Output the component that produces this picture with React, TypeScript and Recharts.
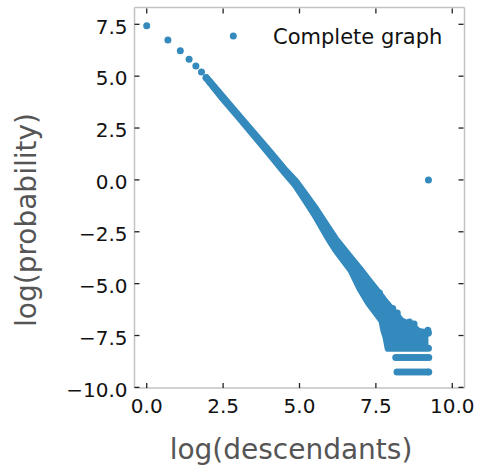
import React from "react";
import { ComposedChart, XAxis, YAxis, Area, Scatter } from "recharts";

const BLUE = "#348ABD";

const xTicks = [0, 2.5, 5, 7.5, 10];
const yTicks = [-10, -7.5, -5, -2.5, 0, 2.5, 5, 7.5];

// first few descendant counts, each point still visible on its own
const headX = [0, 0.693, 1.099, 1.386, 1.609, 1.792, 1.946, 2.079, 2.197, 2.303];
const headY = [7.43, 6.74, 6.22, 5.81, 5.49, 5.2, 4.92, 4.69, 4.48, 4.3];

// dense part of the cloud: upper and lower edge (point centres)
const bandX = [1.95, 2.5, 3.0, 3.5, 4.0, 4.5, 4.87, 5.2, 5.5, 5.93, 6.19, 6.69, 6.98, 7.27, 7.5, 7.7, 7.76, 7.83, 7.9, 8.32, 8.71, 8.88, 9.16, 9.22];
const bandHi = [4.92, 3.98, 3.12, 2.26, 1.4, 0.52, -0.06, -0.72, -1.33, -2.29, -2.87, -3.78, -4.3, -4.85, -5.28, -5.66, -5.78, -5.91, -6.03, -6.78, -7.06, -7.29, -7.37, -7.38];
const bandLo = [4.92, 3.9, 3.04, 2.16, 1.28, 0.38, -0.26, -1.0, -1.68, -2.78, -3.38, -4.36, -5.24, -5.95, -6.4, -6.8, -7.25, -7.58, -8.12, -8.12, -8.12, -8.12, -8.12, -8.12];

// stray points sticking out of the upper edge
const strayX = [7.62, 8.05, 8.2, 8.6, 8.75, 9.2];
const strayY = [-5.45, -6.2, -6.42, -6.85, -6.95, -7.25];

// two lowest probability levels (count 2 and count 1)
const row2X = [8.15, 8.24, 8.33, 8.42, 8.51, 8.6, 8.69, 8.78, 8.87, 8.96, 9.05, 9.14, 9.23];
const row2Y = -8.56;
const row1X = [8.19, 8.28, 8.37, 8.46, 8.55, 8.64, 8.73, 8.82, 8.91, 9.0, 9.09, 9.18, 9.23];
const row1Y = -9.26;

// whole tree
const lastX = [9.22];
const lastY = [0.0];

const head = headX.map((x, i) => ({ x, y: headY[i] }));
const band = bandX.map((x, i) => ({ x, range: [bandLo[i], bandHi[i]] }));
const stray = strayX.map((x, i) => ({ x, y: strayY[i] }));
const rows = [
  ...row2X.map((x) => ({ x, y: row2Y })),
  ...row1X.map((x) => ({ x, y: row1Y })),
];
const last = lastX.map((x, i) => ({ x, y: lastY[i] }));

const fmt = (v: number) => v.toFixed(1).replace("-", "\u2212");
const font = "DejaVu Sans";
const tickColor = "#222";
const frame = { stroke: "#c2c2c2", strokeWidth: 1.5 };

const Dot = (p: any) => <circle cx={p.cx} cy={p.cy} r={3.5} fill={BLUE} />;

const BottomTick = (p: any) => (
  <g>
    <line x1={p.x} x2={p.x} y1={p.y} y2={p.y - 5} stroke={tickColor} strokeWidth={1.3} />
    <text x={p.x} y={p.y + 25} textAnchor="middle" fontSize={20} fontFamily={font} fill="#111">
      {fmt(p.payload.value)}
    </text>
  </g>
);

const LeftTick = (p: any) => (
  <g>
    <line x1={p.x} x2={p.x + 5} y1={p.y} y2={p.y} stroke={tickColor} strokeWidth={1.3} />
    <text x={p.x - 7} y={p.y + 9.3} textAnchor="end" fontSize={20} fontFamily={font} fill="#111">
      {fmt(p.payload.value)}
    </text>
  </g>
);

// top axis box is 1px tall, its line sits at the box's bottom
const TopTick = (p: any) => (
  <line x1={p.x} x2={p.x} y1={p.y + 1} y2={p.y + 6} stroke={tickColor} strokeWidth={1.3} />
);

// right axis box is 1px wide, its line sits at the box's left
const RightTick = (p: any) => (
  <line x1={p.x - 1} x2={p.x - 6} y1={p.y} y2={p.y} stroke={tickColor} strokeWidth={1.3} />
);

export default function App() {
  return (
    <div style={{ position: "relative", width: 479, height: 468 }}>
      <style>{"body{margin:0}"}</style>
      <ComposedChart
        width={479}
        height={468}
        data={band}
        margin={{ top: 6.5, right: 13.5, bottom: 0, left: 0 }}
      >
        <XAxis
          type="number"
          dataKey="x"
          domain={[-0.4, 10.4]}
          allowDataOverflow
          ticks={xTicks}
          interval={0}
          height={80}
          tickSize={0}
          tickMargin={0}
          tickLine={false}
          axisLine={frame}
          tick={BottomTick}
        />
        <XAxis
          xAxisId="top"
          orientation="top"
          type="number"
          dataKey="x"
          domain={[-0.4, 10.4]}
          allowDataOverflow
          ticks={xTicks}
          interval={0}
          height={1}
          tickSize={0}
          tickMargin={0}
          tickLine={false}
          axisLine={frame}
          tick={TopTick}
        />
        <YAxis
          type="number"
          dataKey="y"
          domain={[-10.03, 8.31]}
          allowDataOverflow
          ticks={yTicks}
          interval={0}
          width={134.5}
          tickSize={0}
          tickMargin={0}
          tickLine={false}
          axisLine={frame}
          tick={LeftTick}
        />
        <YAxis
          yAxisId="right"
          orientation="right"
          type="number"
          dataKey="y"
          domain={[-10.03, 8.31]}
          allowDataOverflow
          ticks={yTicks}
          interval={0}
          width={1}
          tickSize={0}
          tickMargin={0}
          tickLine={false}
          axisLine={frame}
          tick={RightTick}
        />
        <Area
          type="linear"
          dataKey="range"
          stroke={BLUE}
          strokeWidth={7}
          strokeLinejoin="round"
          strokeLinecap="round"
          fill={BLUE}
          fillOpacity={1}
          dot={false}
          activeDot={false}
          isAnimationActive={false}
        />
        <Scatter data={head} shape={Dot} isAnimationActive={false} />
        <Scatter data={stray} shape={Dot} isAnimationActive={false} />
        <Scatter data={rows} shape={Dot} isAnimationActive={false} />
        <Scatter data={last} xAxisId="top" yAxisId="right" shape={Dot} isAnimationActive={false} />
      </ComposedChart>
      <svg
        width={479}
        height={468}
        style={{ position: "absolute", left: 0, top: 0, pointerEvents: "none" }}
      >
        <circle cx={233.3} cy={36} r={3.5} fill={BLUE} />
        <text x={273} y={43.5} fontSize={21} fontFamily={font} fill="#111">
          Complete graph
        </text>
        <text x={291} y={459} textAnchor="middle" fontSize={28} fontFamily={font} fill="#555">
          log(descendants)
        </text>
        <text
          x={36}
          y={220}
          textAnchor="middle"
          fontSize={28}
          fontFamily={font}
          fill="#555"
          transform="rotate(-90 36 220)"
        >
          log(probability)
        </text>
      </svg>
    </div>
  );
}
